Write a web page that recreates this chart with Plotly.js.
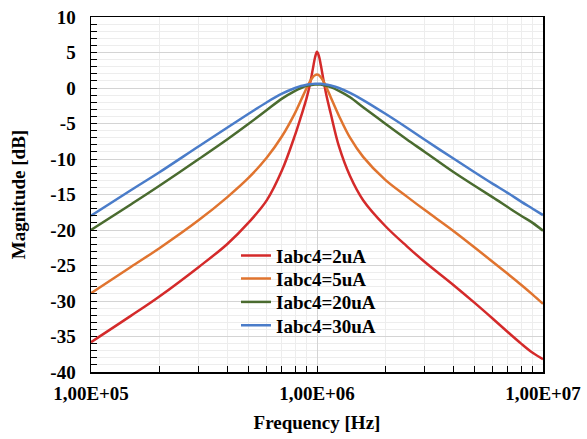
<!DOCTYPE html>
<html>
<head>
<meta charset="utf-8">
<script src="https://cdn.plot.ly/plotly-3.0.1.min.js"></script>
<style>
html,body{margin:0;padding:0;background:#fff;}
#chart{width:587px;height:439px;}
#chart svg text{font-family:"Liberation Serif","Times New Roman",serif !important;font-weight:bold !important;}
</style>
</head>
<body>
<div id="chart"></div>
<script>
// Frequency points (Hz)
const freq = [1e5, 1.5e5, 2e5, 3e5, 4e5, 5e5, 6e5, 7e5, 8e5, 8.5e5, 9e5, 9.3e5, 9.6e5, 9.8e5, 1e6,
              1.02e6, 1.04e6, 1.07e6, 1.1e6, 1.15e6, 1.25e6, 1.4e6, 1.6e6, 2e6, 2.5e6, 3e6,
              4e6, 5e6, 6e6, 7e6, 8e6, 9e6, 1e7];

const seriesNames = ["Iabc4=2uA", "Iabc4=5uA", "Iabc4=20uA", "Iabc4=30uA"];

// Magnitude [dB]
const mag2uA  = [-35.8, -32.1, -29.4, -25.2, -22.0, -18.9, -15.8, -11.6, -6.6, -4.0, -1.4, 0.5, 2.8, 4.3, 5.1,
                 4.5, 3.2, 1.0, -1.0, -3.6, -8.2, -12.4, -15.8, -19.4, -22.3, -24.5,
                 -27.7, -30.3, -32.5, -34.4, -36.0, -37.3, -38.2];
const mag5uA  = [-28.9, -25.2, -22.6, -18.6, -15.4, -12.6, -9.8, -6.8, -3.5, -1.7, 0.0, 0.9, 1.56, 1.8, 1.9,
                 1.8, 1.5, 0.9, 0.1, -1.3, -3.9, -7.0, -9.7, -12.9, -15.3, -17.2,
                 -20.1, -22.5, -24.5, -26.2, -27.7, -29.1, -30.4];
const mag20uA = [-20.0, -16.4, -13.8, -10.0, -7.25, -5.0, -3.1, -1.5, -0.4, 0.0, 0.3, 0.4, 0.47, 0.5, 0.5,
                 0.5, 0.48, 0.4, 0.31, 0.12, -0.4, -1.3, -2.7, -5.0, -7.25, -9.0,
                 -11.8, -13.8, -15.4, -16.8, -18.0, -19.0, -20.1];
const mag30uA = [-18.0, -14.4, -11.9, -8.2, -5.6, -3.6, -2.0, -0.8, 0.0, 0.28, 0.46, 0.53, 0.58, 0.6, 0.6,
                 0.6, 0.59, 0.53, 0.48, 0.35, 0.0, -0.7, -1.7, -3.6, -5.6, -7.3,
                 -9.9, -11.9, -13.5, -14.8, -16.0, -17.0, -17.9];

const xTickVals = [1e5, 1e6, 1e7];
const xTickText = ["1,00E+05", "1,00E+06", "1,00E+07"];
const yTickVals = [-40, -35, -30, -25, -20, -15, -10, -5, 0, 5, 10];
const yTickText = ["-40", "-35", "-30", "-25", "-20", "-15", "-10", "-5", "0", "5", "10"];

const colors = ["#d42a2a", "#e0742f", "#4a6b2f", "#4a7cc9"];
const allMags = [mag2uA, mag5uA, mag20uA, mag30uA];

// minor x tick positions (2..9 per decade)
const xMinor = [];
for (let d = 5; d < 7; d++) for (let k = 2; k <= 9; k++) xMinor.push(k * Math.pow(10, d));

const FONT = "Liberation Serif";
function tf() { return {family: FONT, size: 19, color: "#000", weight: "bold"}; }

const legendIds = ["legend", "legend2", "legend3", "legend4"];
const legendRowsY = [0.328, 0.263, 0.197, 0.131];

const traces = allMags.map((m, i) => ({
  x: freq, y: m, name: seriesNames[i], type: "scatter", mode: "lines",
  legend: legendIds[i],
  line: {color: colors[i], width: 2.5, shape: "spline", smoothing: 1.0}
}));

const layout = {
  width: 587, height: 439,
  margin: {l: 91, r: 44, t: 17, b: 67},
  paper_bgcolor: "#fff", plot_bgcolor: "#fff",
  font: tf(),
  showlegend: true,
  xaxis: {
    type: "log", range: [5, 7],
    tickmode: "array", tickvals: xTickVals, ticktext: xTickText,
    ticks: "inside", ticklen: 6, tickcolor: "#000",
    showline: true, linecolor: "#000", linewidth: 1.5, mirror: true,
    showgrid: true, gridcolor: "#d4d4d4", gridwidth: 1,
    zeroline: false, ticklabelstandoff: 4,
    tickfont: tf(),
    minor: {tickmode: "array", tickvals: xMinor, ticks: "inside", ticklen: 6, tickcolor: "#000",
            showgrid: true, gridcolor: "#ededed", gridwidth: 1},
    title: {text: "Frequency [Hz]", standoff: 12, font: tf()}
  },
  yaxis: {
    range: [-40, 10],
    tickmode: "array", tickvals: yTickVals, ticktext: yTickText,
    ticks: "inside", ticklen: 6, tickcolor: "#000",
    showline: true, linecolor: "#000", linewidth: 1.5, mirror: true,
    showgrid: true, gridcolor: "#d4d4d4", gridwidth: 1,
    zeroline: false, ticklabelstandoff: 10,
    tickfont: tf(),
    minor: {tickmode: "linear", tick0: 0, dtick: 1, ticks: "inside", ticklen: 6, tickcolor: "#000",
            showgrid: true, gridcolor: "#ededed", gridwidth: 1},
    title: {text: "Magnitude [dB]", standoff: 19, font: tf()}
  }
};

legendIds.forEach((id, i) => {
  layout[id] = {
    x: 0.3208, y: legendRowsY[i], xanchor: "left", yanchor: "middle",
    bgcolor: "rgba(0,0,0,0)", borderwidth: 0, font: tf()
  };
});

Plotly.newPlot("chart", traces, layout, {displayModeBar: false, staticPlot: true});
</script>
</body>
</html>
